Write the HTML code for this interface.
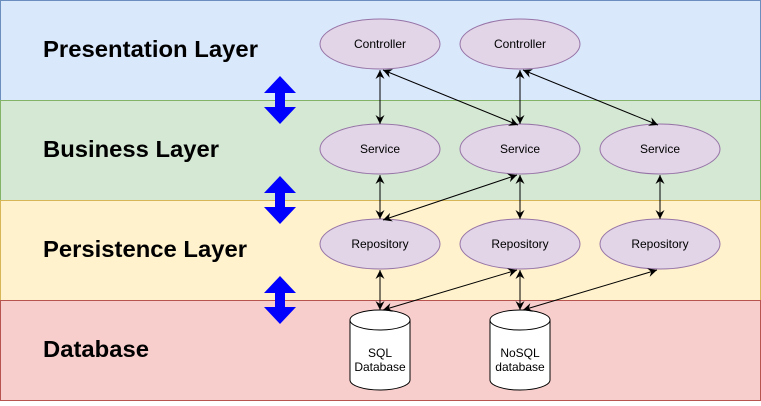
<!DOCTYPE html>
<html><head><style>
body{margin:0;width:761px;height:401px;overflow:hidden;background:#fff}
svg text{font-family:"Liberation Sans",Arial,sans-serif}
</style></head><body>
<svg width="761" height="401" viewBox="0 0 761 401" xmlns="http://www.w3.org/2000/svg">
<defs>
<marker id="a" markerWidth="10" markerHeight="10" refX="9" refY="5" orient="auto-start-reverse" markerUnits="userSpaceOnUse">
<path d="M0,0.5 L9,5 L0,9.5 L3,5 Z" fill="#000"/>
</marker>
<g id="dbl"><path d="M15,0 L31,17 L20,17 L20,31 L31,31 L15,48 L-1,31 L10,31 L10,17 L-1,17 Z" fill="#0000ff"/></g>
</defs>
<rect x="0.5" y="0.5" width="760" height="100" fill="#dae8fc" stroke="#6c8ebf"/>
<rect x="0.5" y="100.5" width="760" height="100" fill="#d5e8d4" stroke="#82b366"/>
<rect x="0.5" y="200.5" width="760" height="100" fill="#fff2cc" stroke="#d6b656"/>
<rect x="0.5" y="300.5" width="760" height="100" fill="#f8cecc" stroke="#b85450"/>
<g font-weight="bold" font-size="23" fill="#000">
<text x="43" y="57" textLength="215" lengthAdjust="spacingAndGlyphs">Presentation Layer</text>
<text x="43" y="157" textLength="176" lengthAdjust="spacingAndGlyphs">Business Layer</text>
<text x="43" y="257" textLength="204" lengthAdjust="spacingAndGlyphs">Persistence Layer</text>
<text x="43" y="357" textLength="106" lengthAdjust="spacingAndGlyphs">Database</text>
</g>
<use href="#dbl" x="265" y="76"/>
<use href="#dbl" x="265" y="176"/>
<use href="#dbl" x="265" y="276"/>
<g fill="#e1d5e7" stroke="#9673a6">
<ellipse cx="380" cy="44" rx="60" ry="25"/><ellipse cx="520" cy="44" rx="60" ry="25"/>
<ellipse cx="380" cy="149" rx="60" ry="25"/><ellipse cx="520" cy="149" rx="60" ry="25"/><ellipse cx="660" cy="149" rx="60" ry="25"/>
<ellipse cx="380" cy="244" rx="60" ry="25"/><ellipse cx="520" cy="244" rx="60" ry="25"/><ellipse cx="660" cy="244" rx="60" ry="25"/>
</g>
<g font-size="12" text-anchor="middle" fill="#000">
<text x="380" y="48">Controller</text><text x="520" y="48">Controller</text>
<text x="380" y="153">Service</text><text x="520" y="153">Service</text><text x="660" y="153">Service</text>
<text x="380" y="248">Repository</text><text x="520" y="248">Repository</text><text x="660" y="248">Repository</text>
</g>
<g fill="#fff" stroke="#000" stroke-width="1">
<path d="M350,320 A30,10 0 0 1 410,320 L410,380 A30,10 0 0 1 350,380 Z"/>
<path d="M350,320 A30,10 0 0 0 410,320"/>
<path d="M490,320 A30,10 0 0 1 550,320 L550,380 A30,10 0 0 1 490,380 Z"/>
<path d="M490,320 A30,10 0 0 0 550,320"/>
</g>
<g font-size="12" text-anchor="middle" fill="#000">
<text x="380" y="357">SQL</text><text x="380" y="371">Database</text>
<text x="520" y="357">NoSQL</text><text x="520" y="371">database</text>
</g>
<g stroke="#000" stroke-width="1" marker-start="url(#a)" marker-end="url(#a)">
<line x1="380" y1="70" x2="380" y2="124"/>
<line x1="383" y1="70" x2="518" y2="125"/>
<line x1="520" y1="70" x2="520" y2="124"/>
<line x1="523" y1="70" x2="658" y2="125"/>
<line x1="380" y1="175" x2="380" y2="219"/>
<line x1="517" y1="175" x2="383" y2="220"/>
<line x1="520" y1="175" x2="520" y2="219"/>
<line x1="660" y1="175" x2="660" y2="219"/>
<line x1="380" y1="270" x2="380" y2="310"/>
<line x1="517" y1="270" x2="383" y2="310"/>
<line x1="520" y1="270" x2="520" y2="310"/>
<line x1="657" y1="270" x2="523" y2="310"/>
</g>
</svg>
</body></html>
